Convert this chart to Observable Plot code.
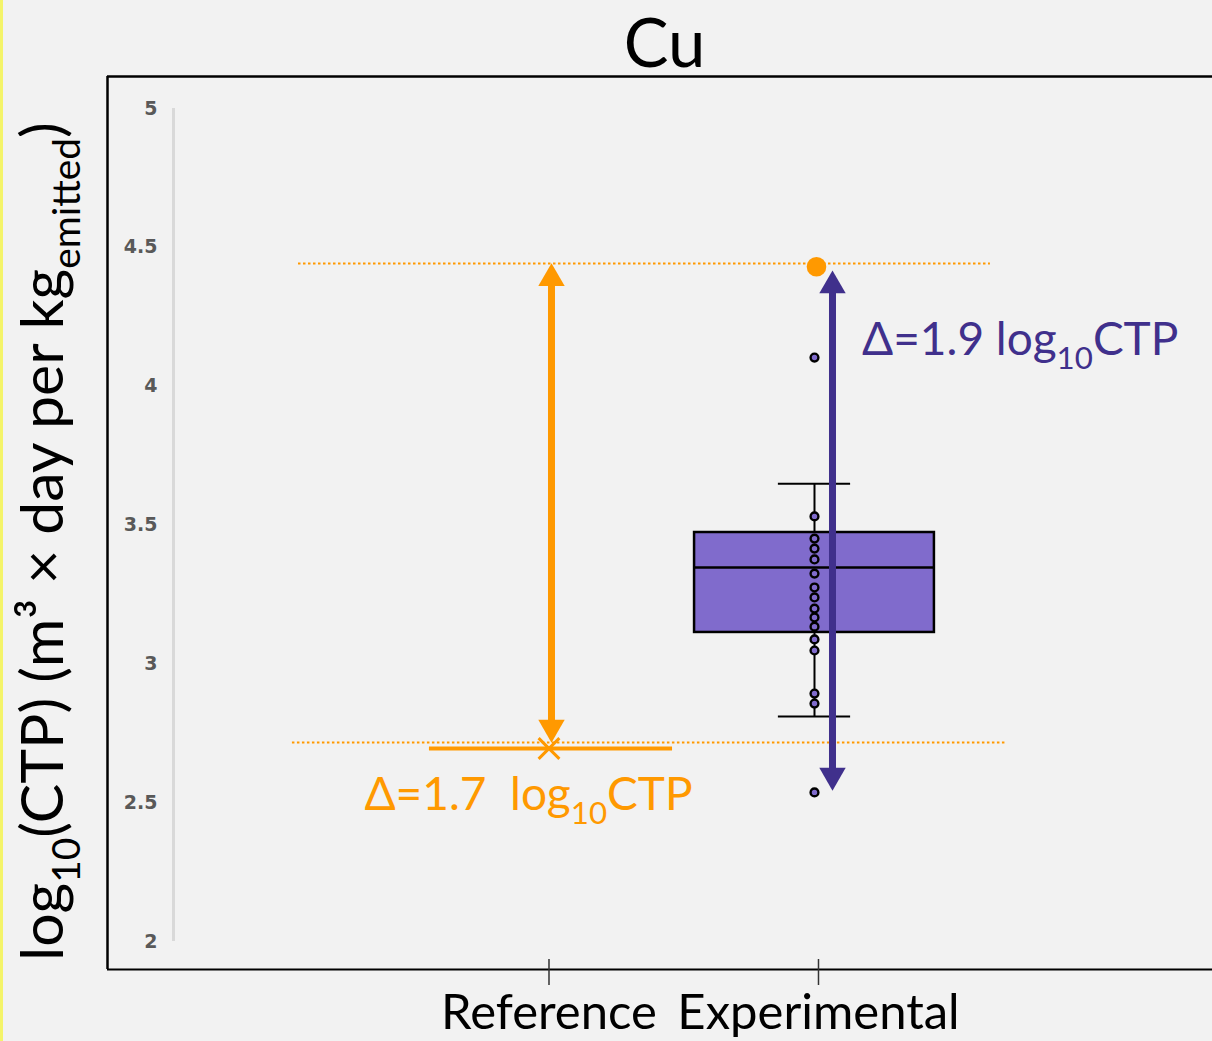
<!DOCTYPE html>
<html><head><meta charset="utf-8">
<script src="https://cdn.jsdelivr.net/npm/d3@7"></script>
<script src="https://cdn.jsdelivr.net/npm/@observablehq/plot@0.6"></script>
<style>
html,body{margin:0;padding:0;background:#f2f2f2;}
body{width:1212px;height:1041px;overflow:hidden;position:relative;}
#edge{position:absolute;left:0;top:0;width:3px;height:1041px;background:#f4f46a;}
#chart svg{display:block;}
</style></head><body><div id="edge"></div><div id="chart"></div>
<script>
// ---- data ----
const title = "Cu";
const categories = ["Reference", "Experimental"];
const categoryPos = [1, 2];
const yTicks = [2, 2.5, 3, 3.5, 4, 4.5, 5];
const referenceValue = [2.695];
const experimentalPoints = [4.103, 3.531, 3.451, 3.415, 3.376, 3.325, 3.275, 3.239, 3.199, 3.167, 3.134, 3.088, 3.048, 2.893, 2.857, 2.537];
const experimentalMax = [4.43];
const boxQ1 = 3.113, boxMedian = 3.347, boxQ3 = 3.473, whiskerLow = 2.81, whiskerHigh = 3.649;
const guideLevels = [4.442, 2.717];
const refArrow = [2.717, 4.442];
const expArrow = [2.544, 4.416];
const deltaRef = "1.7", deltaExp = "1.9";
const yLabelParts = [["log", false], ["10", true], ["(CTP) (m³ × day per kg", false], ["emitted", true], [")", false]];

// ---- styles ----
const ORANGE = "#ff9900", PURPLE = "#40308c", BOXFILL = "#806bcc";
const FONT = "Lato, 'Open Sans', sans-serif";
const xDomain = [-0.6382, 3.462];
const yDomain = [1.8992, 5.1152];
const boxHalf = 0.445, capHalf = 0.134, refHalf = 0.451;
const guideExtent = [[0.0705, 2.638], [0.048, 2.694]];
const guides = guideLevels.map((y, i) => ({y, x1: guideExtent[i][0], x2: guideExtent[i][1]}));

function arrowMarks(x, lo, hi, color, dx) {
  return [
    Plot.ruleX([x], {y1: hi, y2: lo, dx, stroke: color, strokeWidth: 7, insetTop: 16, insetBottom: 16}),
    Plot.dot([hi], {x: () => x, y: d => d, dx, dy: 15, symbol: "triangle", r: 9.8, fill: color}),
    Plot.dot([lo], {x: () => x, y: d => d, dx, dy: -15, rotate: 180, symbol: "triangle", r: 9.8, fill: color})
  ];
}

const chart = Plot.plot({
  width: 1212, height: 1041,
  marginLeft: 107, marginRight: 0, marginTop: 76, marginBottom: 72,
  style: {background: "#f2f2f2", fontFamily: FONT, overflow: "visible"},
  x: {domain: xDomain, axis: null},
  y: {domain: yDomain, axis: null},
  marks: [
    // frame (left, top, bottom)
    Plot.ruleX([xDomain[0]], {stroke: "black", strokeWidth: 2.5}),
    Plot.ruleY([yDomain[1]], {stroke: "black", strokeWidth: 2.5}),
    Plot.ruleY([yDomain[0]], {stroke: "black", strokeWidth: 2}),
    // light gray y axis line
    Plot.ruleX([xDomain[0]], {y1: yTicks[0], y2: yTicks[yTicks.length - 1], dx: 66, stroke: "#d9d9d9", strokeWidth: 3}),
    Plot.text(yTicks, {y: d => d, frameAnchor: "left", dx: 50, textAnchor: "end", text: d => String(d),
      fontWeight: "bold", fill: "#595959", fontSize: 19, fontFamily: "'DejaVu Sans', sans-serif"}),
    // x axis ticks and labels
    Plot.ruleX(categoryPos, {insetTop: 883, stroke: "#333", strokeWidth: 1.5}),
    Plot.axisX(categoryPos, {ticks: categoryPos, tickFormat: d => categories[d - 1], tickSize: 16, tickPadding: 9,
      stroke: "#333", strokeWidth: 1.5, fontSize: 49, fill: "black", fontFamily: FONT}),
    // dotted guides
    Plot.ruleY(guides, {y: "y", x1: "x1", x2: "x2", stroke: ORANGE, strokeWidth: 2, strokeDasharray: "2.5,2.5"}),
    // reference value
    Plot.ruleY(referenceValue, {y: d => d, x1: 1 - refHalf, x2: 1 + refHalf, dx: 2, stroke: ORANGE, strokeWidth: 4}),
    Plot.dot(referenceValue, {x: () => 1, y: d => d, symbol: "times", r: 9.5, stroke: ORANGE, strokeWidth: 3}),
    // experimental box plot
    Plot.ruleX([2], {y1: whiskerLow, y2: whiskerHigh, dx: -4, stroke: "black", strokeWidth: 2}),
    Plot.ruleY([whiskerLow, whiskerHigh], {y: d => d, x1: 2 - capHalf, x2: 2 + capHalf, dx: -4, stroke: "black", strokeWidth: 2}),
    Plot.rect([0], {x1: 2 - boxHalf, x2: 2 + boxHalf, y1: boxQ1, y2: boxQ3, dx: -4, fill: BOXFILL, stroke: "black", strokeWidth: 2.5}),
    Plot.ruleY([boxMedian], {y: d => d, x1: 2 - boxHalf, x2: 2 + boxHalf, dx: -4, stroke: "black", strokeWidth: 2.5}),
    Plot.dot(experimentalPoints, {x: () => 2, y: d => d, dx: -4, r: 3.9, fill: BOXFILL, stroke: "black", strokeWidth: 2.4}),
    // arrows
    ...arrowMarks(1, refArrow[0], refArrow[1], ORANGE, 2.5),
    ...arrowMarks(2, expArrow[0], expArrow[1], PURPLE, 14),
    // experimental max
    Plot.dot(experimentalMax, {x: () => 2, y: d => d, dx: -2, r: 9.8, fill: ORANGE})
  ]
});
document.getElementById("chart").append(chart);

// ---- rich text annotations positioned through the plot's scales ----
const xs = chart.scale("x"), ys = chart.scale("y");
const svg = d3.select(chart);

function richText(parts, {x, y, size, color, anchor = "start", rotate = 0, subShift = 0.3, subScale = 0.68}) {
  const t = svg.append("text")
    .attr("transform", `translate(${x},${y}) rotate(${rotate})`)
    .attr("text-anchor", anchor)
    .attr("font-family", FONT)
    .attr("font-size", size)
    .attr("fill", color)
    .style("white-space", "pre");
  let shifted = false;
  for (const [s, sub] of parts) {
    const sp = t.append("tspan").text(s);
    if (sub && !shifted) { sp.attr("dy", size * subShift).attr("font-size", size * subScale); shifted = true; }
    else if (!sub && shifted) { sp.attr("dy", -size * subShift); shifted = false; }
  }
  return t;
}

// title
svg.append("text")
  .attr("x", (xs.apply(xDomain[0]) + xs.apply(xDomain[1])) / 2 + 5)
  .attr("y", ys.apply(yDomain[1]) - 9)
  .attr("text-anchor", "middle")
  .attr("font-family", FONT)
  .attr("font-size", 67)
  .attr("fill", "black")
  .text(title);

// y axis label
richText(yLabelParts, {x: 63, y: (ys.apply(yDomain[0]) + ys.apply(yDomain[1])) / 2 + 19, size: 59, color: "black", anchor: "middle", rotate: -90, subShift: 0.28, subScale: 0.66});

// delta labels
richText([["Δ=" + deltaExp + " log", false], ["10", true], ["CTP", false]],
  {x: xs.apply(2) + 44, y: ys.apply(4.11), size: 46, color: PURPLE});
richText([["Δ=" + deltaRef + "  log", false], ["10", true], ["CTP", false]],
  {x: xs.apply(1) - 20, y: ys.apply(2.472), size: 46, color: ORANGE, anchor: "middle"});
</script></body></html>
